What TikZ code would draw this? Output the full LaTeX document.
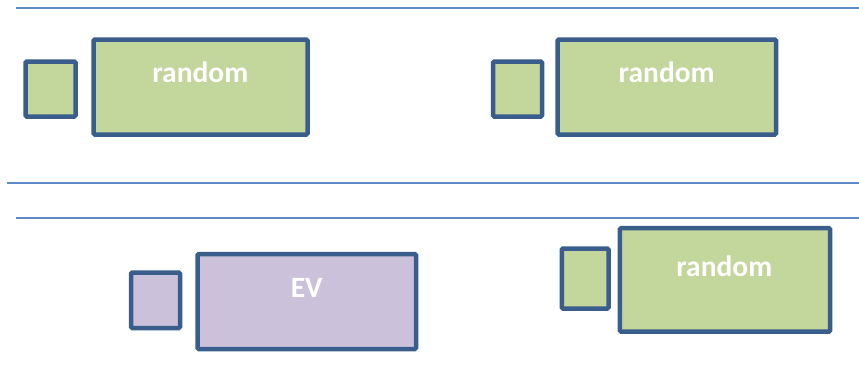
\documentclass[tikz,border=0pt]{standalone}
\usepackage{fontspec}
\setmainfont{Carlito}
\definecolor{rule}{RGB}{92,140,200}
\definecolor{frame}{RGB}{58,94,140}
\definecolor{leaf}{RGB}{195,214,155}
\definecolor{lilac}{RGB}{204,193,218}
\begin{document}
\begin{tikzpicture}[x=1pt,y=-1pt,
  sep/.style={draw=rule,line width=1.5pt},
  blk/.style={draw=frame,line width=4.5pt,rounded corners=1.2pt,inner sep=0pt,outer sep=0pt},
  lbl/.style={text=white,font=\bfseries\fontsize{29.5}{31}\selectfont,inner sep=0pt}]
  \useasboundingbox (0,0) rectangle (859,391);
  % separator rules
  \coordinate (r1a) at (16,8);   \coordinate (r1b) at (859,8);
  \coordinate (r2a) at (7,183);  \coordinate (r2b) at (859,183);
  \coordinate (r3a) at (16,218); \coordinate (r3b) at (859,218);
  \draw[sep] (r1a) -- (r1b);
  \draw[sep] (r2a) -- (r2b);
  \draw[sep] (r3a) -- (r3b);
  % top left pair
  \node[blk,fill=leaf,minimum width=50pt,minimum height=55pt] (s1) at (50.5,89) {};
  \node[blk,fill=leaf,minimum width=214pt,minimum height=95pt] (b1) at (200.5,87) {};
  \node[lbl] (t1) at (200.3,72) {random};
  % top right pair
  \node[blk,fill=leaf,minimum width=49pt,minimum height=55pt] (s2) at (517.5,89) {};
  \node[blk,fill=leaf,minimum width=218.5pt,minimum height=95pt] (b2) at (666.75,87) {};
  \node[lbl] (t2) at (666.7,72) {random};
  % bottom left pair
  \node[blk,fill=lilac,minimum width=49pt,minimum height=55.5pt] (s3) at (155.5,300.25) {};
  \node[blk,fill=lilac,minimum width=218.5pt,minimum height=95pt] (b3) at (306.75,301.5) {};
  \node[lbl] (t3) at (306.7,287.5) {EV};
  % bottom right pair
  \node[blk,fill=leaf,minimum width=46.7pt,minimum height=60pt] (s4) at (585.15,278.5) {};
  \node[blk,fill=leaf,minimum width=210.4pt,minimum height=103.3pt] (b4) at (725,279.85) {};
  \node[lbl] (t4) at (724.3,266) {random};
\end{tikzpicture}
\end{document}
